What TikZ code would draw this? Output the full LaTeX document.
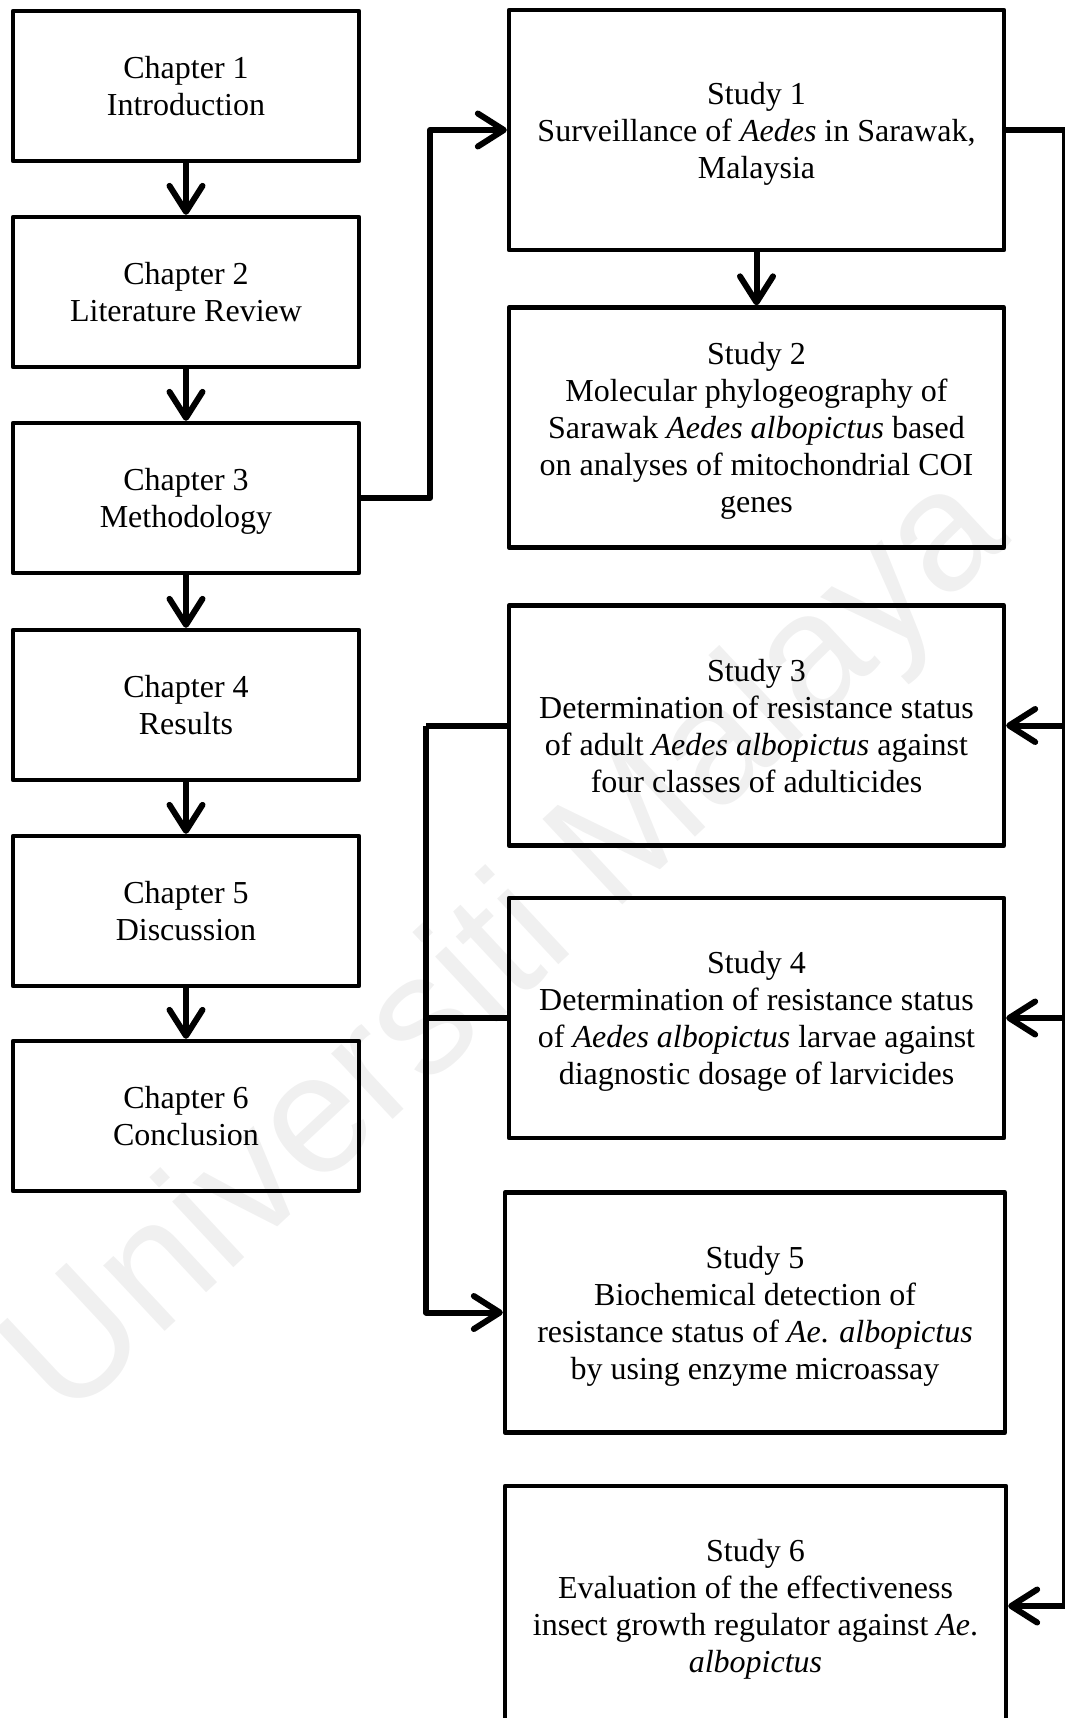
\documentclass[tikz,border=0pt]{standalone}
\usepackage{fontspec}
\setmainfont{Liberation Serif}
\newfontfamily\wmfont{Liberation Sans}
\usetikzlibrary{arrows.meta}
\begin{document}
\begin{tikzpicture}[x=1pt,y=-1pt,
  basebox/.style={draw, line width=4.3pt, line join=round, inner sep=0pt, align=center,
    text depth=0pt, font=\fontsize{32}{37}\selectfont},
  chbox/.style={basebox, minimum width=346pt, minimum height=150pt},
  stbox/.style={basebox, minimum width=495pt, minimum height=240pt},
  conn/.style={line width=6pt, line join=round},
  arr/.style={conn, -{Straight Barb[length=26pt,width=33pt,round]}},
  wm/.style={text=black!6, font=\wmfont\fontsize{170}{170}\selectfont, rotate=43}
]
\useasboundingbox (0,0) rectangle (1065,1718);
\clip (0,0) rectangle (1065,1718);

% watermark
\node[wm] (wmark) at (510,950) {Universiti Malaya};

% chapters
\node[chbox] (c1) at (186,86)   {Chapter 1\\Introduction};
\node[chbox] (c2) at (186,292)  {Chapter 2\\Literature Review};
\node[chbox] (c3) at (186,498)  {Chapter 3\\Methodology};
\node[chbox] (c4) at (186,705)  {Chapter 4\\Results};
\node[chbox] (c5) at (186,911)  {Chapter 5\\Discussion};
\node[chbox] (c6) at (186,1116) {Chapter 6\\Conclusion};

% studies
\node[stbox] (s1) at (756.5,130) {Study 1\\Surveillance of \textit{Aedes} in Sarawak,\\Malaysia};
\node[stbox] (s2) at (756.5,427.5) {Study 2\\Molecular phylogeography of\\Sarawak \textit{Aedes albopictus} based\\on analyses of mitochondrial COI\\genes};
\node[stbox] (s3) at (756.5,725.5) {Study 3\\Determination of resistance status\\of adult \textit{Aedes albopictus} against\\four classes of adulticides};
\node[stbox] (s4) at (756.5,1018) {Study 4\\Determination of resistance status\\of \textit{Aedes albopictus} larvae against\\diagnostic dosage of larvicides};
\node[stbox, minimum width=500pt] (s5) at (755,1312.5) {Study 5\\Biochemical detection of\\resistance status of \textit{Ae}. \textit{albopictus}\\by using enzyme microassay};
\node[stbox, minimum width=501pt] (s6) at (755.5,1606) {Study 6\\Evaluation of the effectiveness\\insect growth regulator against \textit{Ae}.\\\textit{albopictus}};

% chapter chain
\draw[arr] (c1) -- (c2);
\draw[arr] (c2) -- (c3);
\draw[arr] (c3) -- (c4);
\draw[arr] (c4) -- (c5);
\draw[arr] (c5) -- (c6);

% chapter 3 to study 1
\coordinate (cb) at (430,498);
\draw[arr] (c3.east) -- (cb) |- (s1.west);

% study 1 to study 2
\draw[arr] (s1) -- (s2);

% right bus
\coordinate (rb) at (1065,130);
\draw[conn] (s1.east) -- (rb) -- (rb |- s6.east);
\draw[arr] (rb |- s3.east) -- (s3.east);
\draw[arr] (rb |- s4.east) -- (s4.east);
\draw[arr] (rb |- s6.east) -- (s6.east);

% left bus
\coordinate (lb) at (426,725.5);
\draw[conn] (s3.west) -- (lb);
\draw[conn] (s4.west) -- (lb |- s4.west);
\draw[arr] (lb) |- (s5.west);
\end{tikzpicture}
\end{document}
